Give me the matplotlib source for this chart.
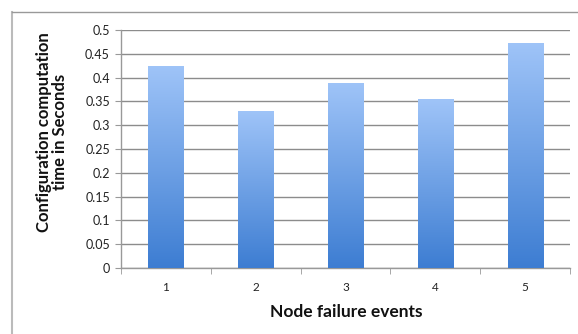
import numpy as np
import matplotlib
matplotlib.use("Agg")
import matplotlib.pyplot as plt
from matplotlib.colors import LinearSegmentedColormap
from matplotlib.lines import Line2D

# dati
eventi = ["1", "2", "3", "4", "5"]
tempi = [0.425, 0.33, 0.389, 0.355, 0.473]
y_ticks = [0, 0.05, 0.1, 0.15, 0.2, 0.25, 0.3, 0.35, 0.4, 0.45, 0.5]

plt.rcParams['font.family'] = ['Lato', 'DejaVu Sans']

fig = plt.figure(figsize=(5.78, 3.34), dpi=100)
ax = fig.add_axes([121 / 578, 1 - 268 / 334, 449 / 578, 238 / 334])

x = np.arange(len(eventi))
bars = ax.bar(x, tempi, width=0.39, color='none', zorder=3)

# gradiente sulle barre (chiaro in alto, scuro in basso)
cmap = LinearSegmentedColormap.from_list("grad", ["#3d7dd2", "#9fc4f8"])
grad = np.linspace(0, 1, 256).reshape(-1, 1)
for b in bars:
    x0, y0 = b.get_x(), b.get_y()
    w, h = b.get_width(), b.get_height()
    im = ax.imshow(grad, cmap=cmap, origin='lower', aspect='auto',
                   extent=[x0, x0 + w, y0, y0 + h], zorder=3)
    im.set_clip_path(b)

ax.set_xlim(-0.5, len(eventi) - 0.5)
ax.set_ylim(0, 0.5)
ax.set_yticks(y_ticks)
ax.set_yticklabels([f"{v:g}" for v in y_ticks])
ax.set_xticks(x)
ax.set_xticklabels(eventi)
ax.tick_params(axis='x', length=0, pad=10, labelsize=8.5, colors='#222222')
ax.set_xticks(np.arange(-0.5, len(eventi)), minor=True)
ax.tick_params(axis='x', which='minor', length=4, color='#999999', direction='out')
ax.tick_params(axis='y', length=4, color='#999999', labelsize=9, pad=4)
ax.tick_params(axis='y', colors='#999999', labelcolor='#222222')

ax.grid(axis='y', color='#8c8c8c', linewidth=1.0, zorder=0)
ax.set_axisbelow(True)
for s in ['top', 'right']:
    ax.spines[s].set_visible(False)
for s in ['left', 'bottom']:
    ax.spines[s].set_color('#999999')
    ax.spines[s].set_linewidth(1.0)

fig.text(346 / 578, 1 - 312 / 334, "Node failure events", ha='center', va='center',
         fontsize=12.5, fontweight='bold', color='#111111')
fig.text(52 / 578, 1 - 132 / 334, "Configuration computation\ntime in Seconds",
         ha='center', va='center', rotation=90, fontsize=12, fontweight='bold',
         color='#111111', linespacing=1.05)

# cornice del grafico
fig.add_artist(Line2D([12 / 578, 12 / 578], [0, 1 - 12 / 334], transform=fig.transFigure,
                      color='#bbbbbb', linewidth=1.5))
fig.add_artist(Line2D([12 / 578, 1], [1 - 12 / 334, 1 - 12 / 334], transform=fig.transFigure,
                      color='#999999', linewidth=1.0))

fig.savefig("out.png", dpi=100)
